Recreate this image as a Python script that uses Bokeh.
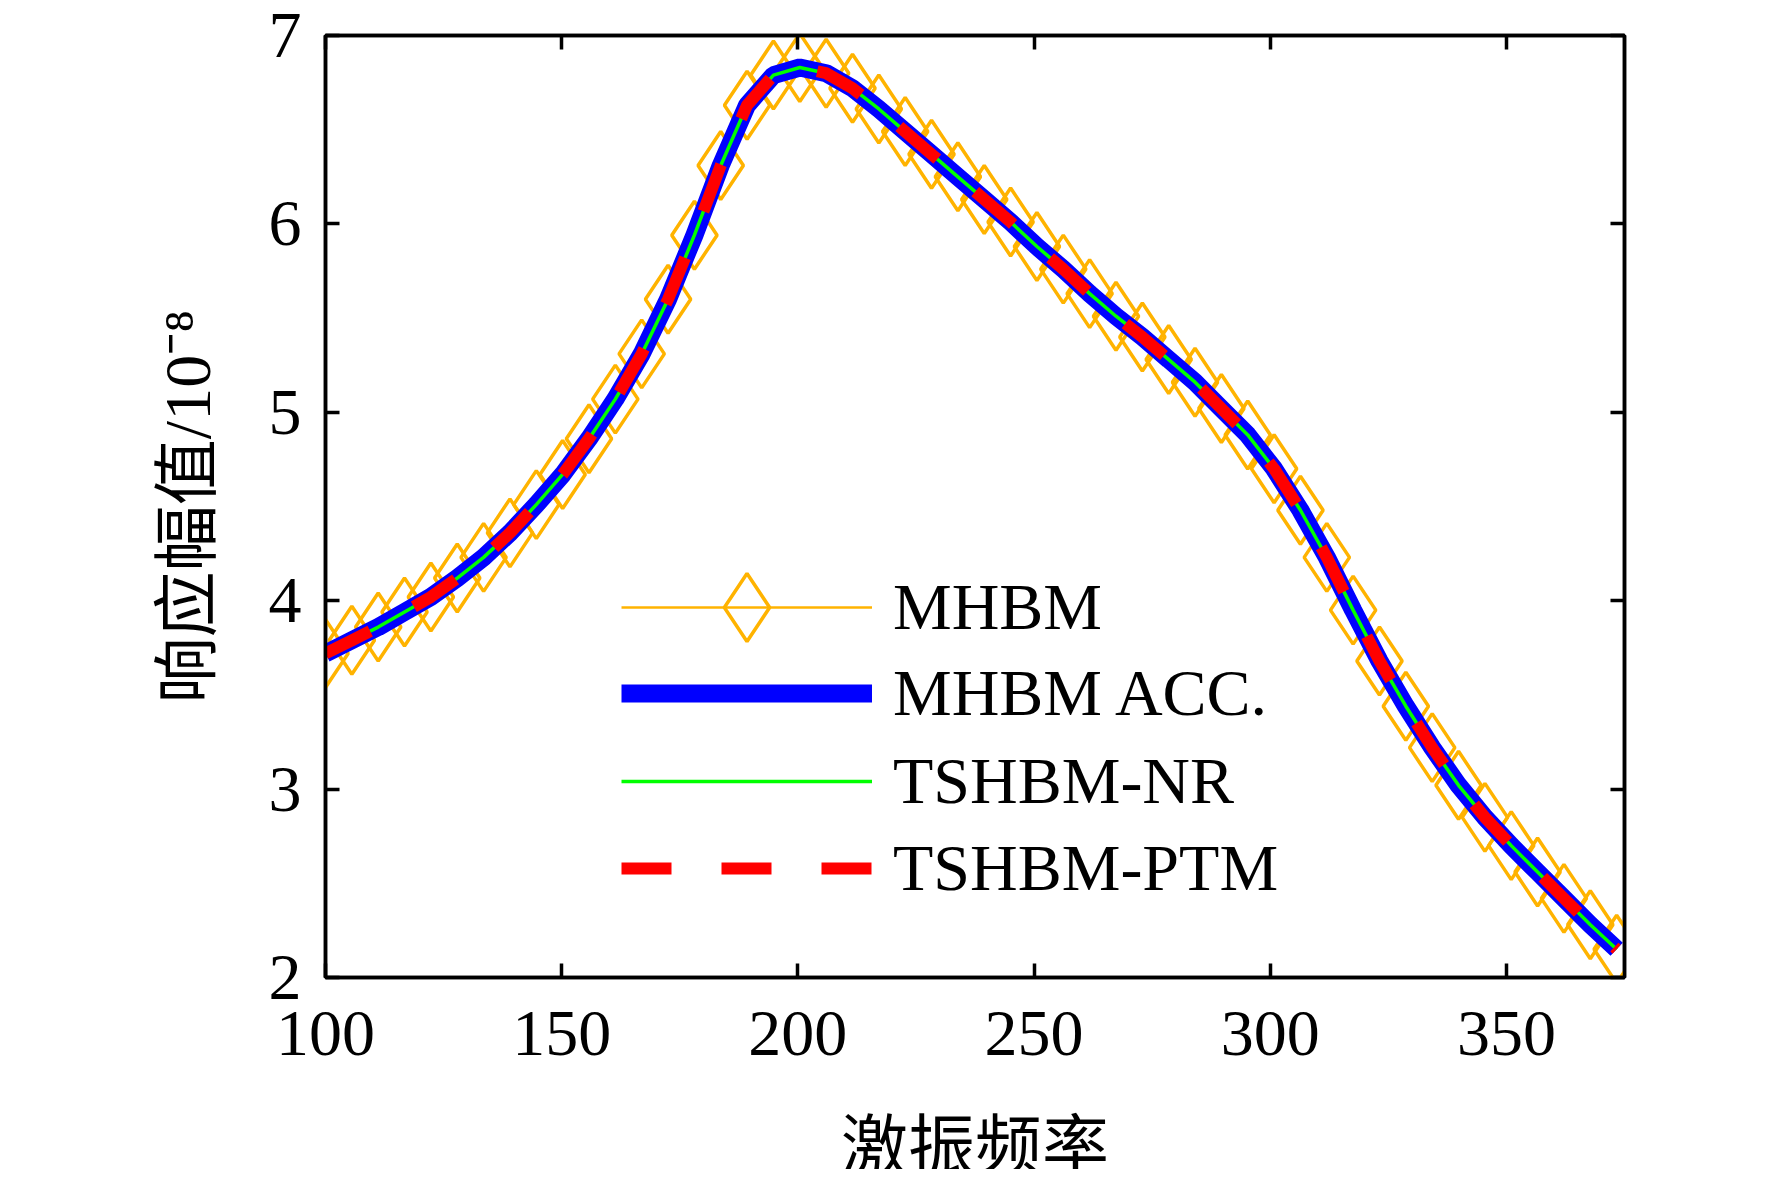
from bokeh.plotting import figure
from bokeh.models import Legend, LegendItem, LinearAxis, FixedTicker, Range1d
from bokeh.embed import file_html
from bokeh.resources import INLINE

# excitation frequency (x)
freq = [100.00, 105.58, 111.16, 116.73, 122.31, 127.89, 133.47, 139.05, 144.63, 150.20,
        155.78, 161.36, 166.94, 172.52, 178.10, 183.67, 189.25, 194.83, 200.41, 205.99,
        211.57, 217.14, 222.72, 228.30, 233.88, 239.46, 245.04, 250.61, 256.19, 261.77,
        267.35, 272.93, 278.51, 284.08, 289.66, 295.24, 300.82, 306.40, 311.98, 317.55,
        323.13, 328.71, 334.29, 339.87, 345.45, 351.02, 356.60, 362.18, 367.76, 373.34]

# response amplitude /1e-8, MHBM
mhbm = [3.72, 3.79, 3.86, 3.94, 4.02, 4.12, 4.23, 4.36, 4.51, 4.67,
        4.86, 5.07, 5.31, 5.60, 5.94, 6.31, 6.63, 6.79, 6.83, 6.80,
        6.72, 6.61, 6.49, 6.37, 6.25, 6.13, 6.01, 5.88, 5.76, 5.63,
        5.51, 5.40, 5.28, 5.16, 5.02, 4.88, 4.70, 4.48, 4.23, 3.95,
        3.68, 3.44, 3.22, 3.02, 2.85, 2.70, 2.56, 2.42, 2.28, 2.15]
# the other three methods sit right on top of MHBM in the figure
mhbm_acc = list(mhbm)
tshbm_nr = list(mhbm)
tshbm_ptm = list(mhbm)

x_ticks = [100, 150, 200, 250, 300, 350]
y_ticks = [2, 3, 4, 5, 6, 7]
x_title = "激振频率"
y_title = "响应幅值/10⁻⁸"

SERIF = "Liberation Serif"
MIXED = "Liberation Serif, Noto Sans CJK SC"
FS = "66px"

p = figure(width=1756, height=1169, output_backend="svg", toolbar_location=None,
           x_range=Range1d(100, 375), y_range=Range1d(2, 7),
           min_border_left=325, min_border_right=132, min_border_top=35, min_border_bottom=192)
p.background_fill_color = "white"
p.border_fill_color = "white"
p.xgrid.grid_line_color = None
p.ygrid.grid_line_color = None
p.outline_line_color = "black"
p.outline_line_width = 3.5

# curves: orange with diamonds underneath, then blue, green and red dashed on top
r_org = p.line(freq, mhbm, line_color="#FFB300", line_width=2.5)
r_dia = p.scatter(freq, mhbm, marker="diamond", size=68, fill_alpha=0,
                  line_color="#FFB300", line_width=3.5)
r_acc = p.line(freq, mhbm_acc, line_color="#0000FF", line_width=18)
r_nr = p.line(freq, tshbm_nr, line_color="#00FF00", line_width=3.5)
r_ptm = p.line(freq, tshbm_ptm, line_color="#FF0000", line_width=12, line_dash="50 50")

def style_axis(ax, ticks, labels=True):
    ax.ticker = FixedTicker(ticks=ticks)
    ax.axis_line_width = 3.5
    ax.axis_line_color = "black"
    ax.major_tick_line_width = 3.5
    ax.major_tick_line_color = "black"
    ax.major_tick_in = 14
    ax.major_tick_out = 0
    ax.minor_tick_line_color = None
    if labels:
        ax.major_label_text_font = SERIF
        ax.major_label_text_font_size = FS
        ax.major_label_text_color = "black"
    else:
        ax.major_label_text_color = None
        ax.major_label_standoff = 0

style_axis(p.xaxis[0], x_ticks)
style_axis(p.yaxis[0], y_ticks)
p.xaxis.major_label_standoff = 34
p.yaxis.major_label_standoff = 24

# the trailing empty line with a negative line height trims the label box,
# so the title can sit right at the bottom edge without squeezing the frame
p.xaxis.axis_label = x_title + "\n"
p.xaxis.axis_label_text_line_height = -0.3
p.yaxis.axis_label = y_title
for ax in (p.xaxis[0], p.yaxis[0]):
    ax.axis_label_text_font = MIXED
    ax.axis_label_text_font_style = "normal"
    ax.axis_label_text_color = "black"
p.xaxis.axis_label_text_font_size = "67px"
p.yaxis.axis_label_text_font_size = FS
p.xaxis.axis_label_standoff = 52
p.yaxis.axis_label_standoff = 42

top_ax = LinearAxis()
style_axis(top_ax, x_ticks, labels=False)
p.add_layout(top_ax, "above")
right_ax = LinearAxis()
style_axis(right_ax, y_ticks, labels=False)
p.add_layout(right_ax, "right")

# one legend per row so the tall glyph box (big diamond) keeps the tight row pitch
entries = [("MHBM", [r_org, r_dia], 285),
           ("MHBM ACC.", [r_acc], 199),
           ("TSHBM-NR", [r_nr], 111),
           ("TSHBM-PTM", [r_ptm], 24)]
for name, rends, ypos in entries:
    lg = Legend(items=[LegendItem(label=name, renderers=rends)], location=(296, ypos))
    lg.glyph_width = 251
    lg.glyph_height = 170
    lg.label_height = 170
    lg.padding = 0
    lg.margin = 0
    lg.label_standoff = 21
    lg.label_text_font = SERIF
    lg.label_text_font_size = FS
    lg.label_text_color = "black"
    lg.background_fill_alpha = 0
    lg.border_line_color = None
    p.add_layout(lg)

open("out.html", "w").write(file_html(p, INLINE))
